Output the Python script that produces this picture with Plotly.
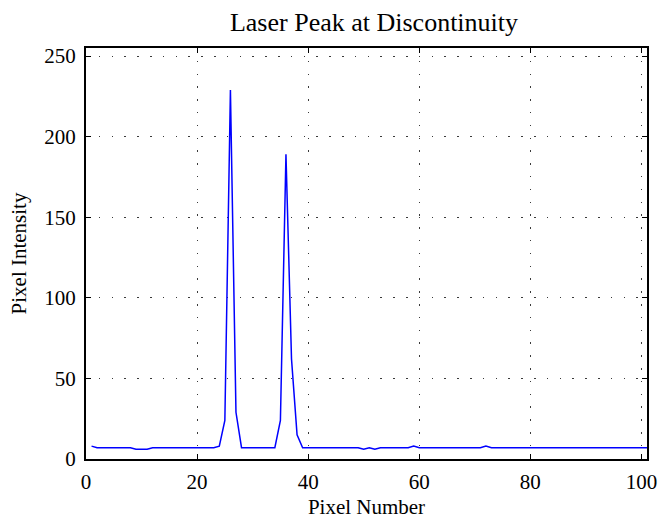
import plotly.graph_objects as go

# Pixel intensity profile across the sensor row (pixels 1..101)
pixel_number = list(range(1, 102))
pixel_intensity = [
    8, 7, 7, 7, 7, 7, 7, 7, 6, 6,        # 1-10
    6, 7, 7, 7, 7, 7, 7, 7, 7, 7,        # 11-20
    7, 7, 7, 8, 24, 229, 29, 7, 7, 7,    # 21-30
    7, 7, 7, 7, 24, 189, 62, 15, 7, 7,   # 31-40
    7, 7, 7, 7, 7, 7, 7, 7, 7, 6,        # 41-50
    7, 6, 7, 7, 7, 7, 7, 7, 8, 7,        # 51-60
    7, 7, 7, 7, 7, 7, 7, 7, 7, 7,        # 61-70
    7, 8, 7, 7, 7, 7, 7, 7, 7, 7,        # 71-80
    7, 7, 7, 7, 7, 7, 7, 7, 7, 7,        # 81-90
    7, 7, 7, 7, 7, 7, 7, 7, 7, 7,        # 91-100
    7,                                   # 101
]

x_ticks = [0, 20, 40, 60, 80, 100]
y_ticks = [0, 50, 100, 150, 200, 250]

FONT = "Liberation Serif, Times New Roman, serif"

fig = go.Figure(
    go.Scatter(
        x=pixel_number,
        y=pixel_intensity,
        mode="lines",
        line=dict(color="#0000ff", width=1.5),
        showlegend=False,
    )
)

axis_common = dict(
    automargin=False,
    showline=True,
    linecolor="black",
    linewidth=2,
    mirror="ticks",
    ticks="inside",
    ticklen=5,
    tickwidth=1,
    tickcolor="black",
    showgrid=True,
    gridcolor="#3a3a3a",
    gridwidth=1.3,
    griddash="1.5px,11.3px",
    zeroline=False,
    tickfont=dict(family=FONT, size=21, color="black"),
)

fig.update_xaxes(
    **axis_common,
    range=[0, 101],
    tickvals=x_ticks,
    ticklabelstandoff=3,
    title=dict(text="Pixel Number", font=dict(family=FONT, size=21, color="black"), standoff=6),
)
fig.update_yaxes(
    **axis_common,
    range=[0, 255],
    tickvals=y_ticks,
    ticklabelstandoff=4,
    title=dict(text="Pixel Intensity", font=dict(family=FONT, size=21, color="black"), standoff=12),
)

fig.update_layout(
    width=658,
    height=521,
    margin=dict(l=86, r=11, t=48, b=62),
    paper_bgcolor="white",
    plot_bgcolor="white",
    title=dict(
        text="Laser Peak at Discontinuity",
        font=dict(family=FONT, size=26, color="black"),
        x=374 / 658,
        xanchor="center",
        y=1 - 22 / 521,
        yanchor="middle",
    ),
)

fig.write_html("out.html")
